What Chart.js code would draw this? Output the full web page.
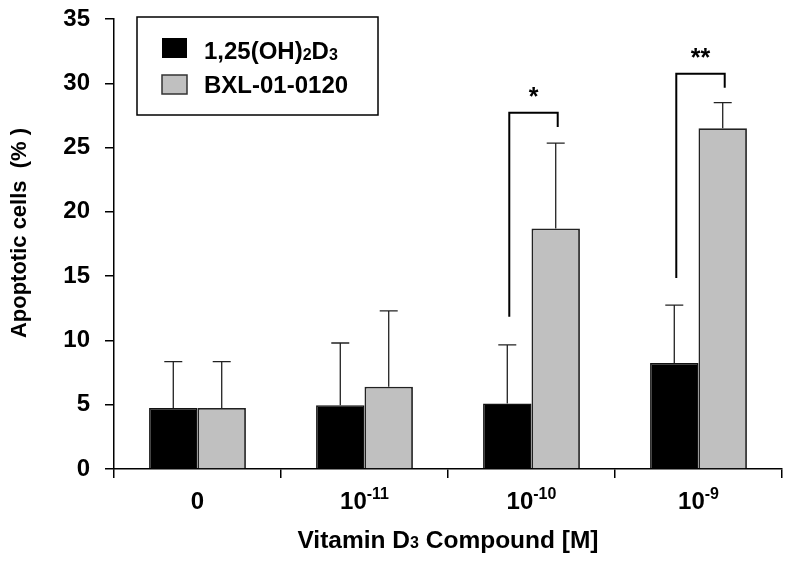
<!DOCTYPE html>
<html>
<head>
<meta charset="utf-8">
<script src="https://cdn.jsdelivr.net/npm/chart.js@4/dist/chart.umd.min.js"></script>
<style>
    body { margin: 0; background: #fff; }
    #wrap { width: 790px; height: 571px; position: relative; }
</style>
</head>
<body>
<div id="wrap"><canvas id="chart"></canvas></div>
<script>
// datos
const categories = ["0", "10^-11", "10^-10", "10^-9"];
const tickBase = ["0", "10", "10", "10"];
const tickExp = ["", "-11", "-10", "-9"];

const calcitriol = [4.75, 4.95, 5.1, 8.25];
const calcitriolErr = [3.6, 4.85, 4.55, 4.5];
const bxl = [4.75, 6.4, 18.7, 26.5];
const bxlErr = [3.6, 5.9, 6.65, 2.0];

const yTicks = [0, 5, 10, 15, 20, 25, 30, 35];

// corchetes de significancia
const sigMarks = ["", "", "*", "**"];
const bracketTop = [0, 0, 27.7, 30.75];
const bracketLeftEnd = [0, 0, 11.85, 14.85];
const bracketRightEnd = [0, 0, 26.6, 29.65];

const FONT = "Liberation Sans, Arial, sans-serif";

// texto con sub/superindice: partes [texto, tamaño, desplazamiento]
function partsWidth(ctx, parts) {
    let total = 0;
    parts.forEach(p => {
        ctx.font = `bold ${p[1]}px ${FONT}`;
        total += ctx.measureText(p[0]).width;
    });
    return total;
}

function drawParts(ctx, parts, cx, baseline) {
    let x = cx - partsWidth(ctx, parts) / 2;
    ctx.textAlign = "left";
    ctx.textBaseline = "alphabetic";
    parts.forEach(p => {
        ctx.font = `bold ${p[1]}px ${FONT}`;
        ctx.fillText(p[0], x, baseline + p[2]);
        x += ctx.measureText(p[0]).width;
    });
}

const extras = {
    id: "extras",
    afterDatasetsDraw(chart) {
        const ctx = chart.ctx;
        const y = chart.scales.y;
        const x = chart.scales.x;
        const errs = [calcitriolErr, bxlErr];
        const vals = [calcitriol, bxl];

        ctx.save();
        // barras de error (solo hacia arriba)
        errs.forEach((err, d) => {
            chart.getDatasetMeta(d).data.forEach((bar, i) => {
                const top = y.getPixelForValue(vals[d][i] + err[i]);
                ctx.strokeStyle = "#222";
                ctx.lineWidth = 1.3;
                ctx.beginPath();
                ctx.moveTo(bar.x, bar.y);
                ctx.lineTo(bar.x, top);
                ctx.moveTo(bar.x - 9, top);
                ctx.lineTo(bar.x + 9, top);
                ctx.stroke();
            });
        });

        // corchetes y asteriscos
        categories.forEach((c, i) => {
            if (!sigMarks[i]) return;
            const b0 = chart.getDatasetMeta(0).data[i];
            const b1 = chart.getDatasetMeta(1).data[i];
            const xl = b0.x + 2, xr = b1.x + 2;
            const yt = y.getPixelForValue(bracketTop[i]);
            ctx.strokeStyle = "#000";
            ctx.lineWidth = 2;
            ctx.beginPath();
            ctx.moveTo(xl, y.getPixelForValue(bracketLeftEnd[i]));
            ctx.lineTo(xl, yt);
            ctx.lineTo(xr, yt);
            ctx.lineTo(xr, y.getPixelForValue(bracketRightEnd[i]));
            ctx.stroke();
            ctx.fillStyle = "#000";
            ctx.font = `bold 25px ${FONT}`;
            ctx.textAlign = "center";
            ctx.textBaseline = "alphabetic";
            ctx.fillText(sigMarks[i], (xl + xr) / 2, yt - 8);
        });

        // etiquetas del eje x con superindice
        ctx.fillStyle = "#000";
        categories.forEach((c, i) => {
            const cx = x.getPixelForValue(i);
            const parts = [[tickBase[i], 24, 0]];
            if (tickExp[i]) parts.push([tickExp[i], 16, -10]);
            drawParts(ctx, parts, cx, 509);
        });

        // titulo del eje x
        drawParts(ctx, [["Vitamin D", 24.5, 0], ["3", 16, 0], [" Compound [M]", 24.5, 0]],
            (chart.chartArea.left + chart.chartArea.right) / 2, 548);

        // titulo del eje y
        ctx.save();
        ctx.translate(20, 233);
        ctx.rotate(-Math.PI / 2);
        ctx.font = `bold 22px ${FONT}`;
        ctx.textAlign = "center";
        ctx.textBaseline = "middle";
        ctx.fillText("Apoptotic cells  (% )", 0, 0);
        ctx.restore();

        // leyenda
        ctx.lineWidth = 1.5;
        ctx.strokeStyle = "#000";
        ctx.fillStyle = "#fff";
        ctx.fillRect(137, 17, 241, 98);
        ctx.strokeRect(137, 17, 241, 98);
        ctx.fillStyle = "#000";
        ctx.fillRect(162, 38, 25, 20);
        ctx.fillStyle = "#c0c0c0";
        ctx.fillRect(162, 75, 25, 19);
        ctx.strokeStyle = "#333";
        ctx.strokeRect(162, 75, 25, 19);
        ctx.fillStyle = "#000";
        const lx = 204;
        const leg1 = [["1,25(OH)", 24, 0], ["2", 16, 1], ["D", 24, 0], ["3", 16, 1]];
        drawParts(ctx, leg1, lx + partsWidth(ctx, leg1) / 2, 59);
        ctx.font = `bold 24px ${FONT}`;
        ctx.textAlign = "left";
        ctx.fillText("BXL-01-0120", lx, 93);
        ctx.restore();
    }
};

new Chart(document.getElementById("chart"), {
    type: "bar",
    data: {
        labels: categories,
        datasets: [
            {
                label: "1,25(OH)2D3",
                data: calcitriol,
                backgroundColor: "#000",
                borderColor: "#111",
                borderWidth: 1.5
            },
            {
                label: "BXL-01-0120",
                data: bxl,
                backgroundColor: "#c0c0c0",
                borderColor: "#222",
                borderWidth: 1.8
            }
        ]
    },
    options: {
        responsive: true,
        maintainAspectRatio: false,
        animation: false,
        layout: { padding: { top: 19, right: 8, left: 0, bottom: 0 } },
        datasets: { bar: { categoryPercentage: 0.58, barPercentage: 1.0 } },
        plugins: {
            legend: { display: false },
            tooltip: { enabled: false }
        },
        scales: {
            x: {
                offset: true,
                grid: { offset: true, drawOnChartArea: false, drawTicks: true, tickLength: 9, color: "#000", lineWidth: 1.5 },
                border: { display: true, color: "#000", width: 1.5 },
                ticks: { display: false },
                afterFit: s => { s.height = 102; s.paddingLeft = 0; s.paddingRight = 0; }
            },
            y: {
                min: 0,
                max: 35,
                afterBuildTicks: s => { s.ticks = yTicks.map(v => ({ value: v })); },
                grid: { drawOnChartArea: false, drawTicks: true, tickLength: 9, color: "#000", lineWidth: 1.5 },
                border: { display: true, color: "#000", width: 1.5 },
                ticks: { color: "#000", padding: 15, font: { family: FONT, size: 24, weight: "bold" } },
                afterFit: s => { s.width = 114; s.paddingTop = 0; s.paddingBottom = 0; }
            }
        }
    },
    plugins: [extras]
});
</script>
</body>
</html>
